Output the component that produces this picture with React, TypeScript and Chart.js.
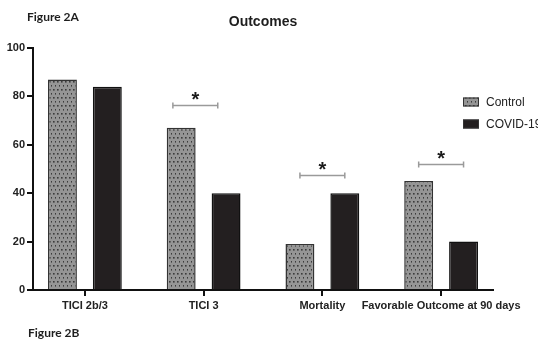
import React, { useEffect, useRef } from "react";
import { Chart, registerables } from "chart.js";

Chart.register(...registerables);

const categories = ["TICI 2b/3", "TICI 3", "Mortality", "Favorable Outcome at 90 days"];
const seriesNames = ["Control", "COVID-19"];
const controlValues = [87, 67, 19, 45];
const covidValues = [84, 40, 40, 20];
const yMin = 0;
const yMax = 100;
const yStep = 20;
// significance brackets: category index, bracket level (y value), small shift in category units
const sigCategory = [1, 2, 3];
const sigLevel = [76.5, 47.6, 52.1];
const sigShift = [-0.07, 0, 0];
const sigMark = ["*", "*", "*"];

const SANS = '"Liberation Sans", Arial, sans-serif';

function makePattern(): CanvasPattern | string {
  const c = document.createElement("canvas");
  c.width = 4;
  c.height = 8;
  const g = c.getContext("2d");
  if (!g) return "#8a8a8a";
  g.fillStyle = "#959595";
  g.fillRect(0, 0, 4, 8);
  g.fillStyle = "#3c3c3c";
  g.fillRect(1, 1, 1.6, 1.6);
  g.fillRect(3, 5, 1.6, 1.6);
  const p = g.createPattern(c, "repeat");
  return p || "#8a8a8a";
}

export default function App() {
  const ref = useRef<HTMLCanvasElement | null>(null);

  useEffect(() => {
    const canvas = ref.current;
    if (!canvas) return;
    const pattern = makePattern();

    const overlay = {
      id: "overlay",
      afterDraw(chart: any) {
        const ctx = chart.ctx as CanvasRenderingContext2D;
        const xs = chart.scales.x;
        const ys = chart.scales.y;
        const area = chart.chartArea;
        ctx.save();

        // category tick marks on the x axis
        ctx.strokeStyle = "#111";
        ctx.lineWidth = 2;
        ctx.beginPath();
        categories.forEach((_, i) => {
          const px = Math.round(xs.getPixelForValue(i));
          ctx.moveTo(px, area.bottom);
          ctx.lineTo(px, area.bottom + 6);
        });
        ctx.stroke();

        // panel labels and title
        ctx.fillStyle = "#1e1e1e";
        ctx.textBaseline = "middle";
        ctx.textAlign = "left";
        ctx.font = 'bold 12px Lato, "Open Sans", sans-serif';
        ctx.fillText("Figure 2A", 27, 17);
        ctx.fillText("Figure 2B", 28, 333);
        ctx.textAlign = "center";
        ctx.font = "bold 14px " + SANS;
        ctx.fillText("Outcomes", 263, 22);

        // legend
        const fills = [pattern, "#231f20"];
        const rows = [102, 124];
        seriesNames.forEach((name, i) => {
          ctx.fillStyle = fills[i] as any;
          ctx.fillRect(463, rows[i] - 4.5, 16, 9);
          ctx.strokeStyle = "#333";
          ctx.lineWidth = 1;
          ctx.strokeRect(463.5, rows[i] - 4, 15, 8);
          ctx.fillStyle = "#222";
          ctx.textAlign = "left";
          ctx.textBaseline = "middle";
          ctx.font = "12px " + SANS;
          ctx.fillText(name, 486, rows[i] + 0.5);
        });

        // significance brackets
        const m0 = chart.getDatasetMeta(0);
        const m1 = chart.getDatasetMeta(1);
        sigCategory.forEach((ci, k) => {
          const shift = xs.getPixelForValue(ci + sigShift[k]) - xs.getPixelForValue(ci);
          const x0 = m0.data[ci].x + shift;
          const x1 = m1.data[ci].x + shift;
          const y = Math.round(ys.getPixelForValue(sigLevel[k])) + 0.5;
          ctx.strokeStyle = "#9a9a9a";
          ctx.lineWidth = 1.5;
          ctx.beginPath();
          ctx.moveTo(x0, y);
          ctx.lineTo(x1, y);
          ctx.moveTo(x0, y - 3);
          ctx.lineTo(x0, y + 3);
          ctx.moveTo(x1, y - 3);
          ctx.lineTo(x1, y + 3);
          ctx.stroke();
          ctx.fillStyle = "#1a1a1a";
          ctx.font = "bold 20px " + SANS;
          ctx.textAlign = "center";
          ctx.textBaseline = "alphabetic";
          const mt = ctx.measureText(sigMark[k]);
          const asc = mt.actualBoundingBoxAscent;
          const desc = mt.actualBoundingBoxDescent;
          const cy = y - 10;
          ctx.fillText(sigMark[k], (x0 + x1) / 2, cy + (asc - desc) / 2);
        });
        ctx.restore();
      },
    };

    const chart = new Chart(canvas, {
      type: "bar",
      data: {
        datasets: [
          {
            label: seriesNames[0],
            data: controlValues.map((v, i) => ({ x: i, y: v })),
            backgroundColor: pattern as any,
            borderColor: "#333333",
            borderWidth: 1.5,
          },
          {
            label: seriesNames[1],
            data: covidValues.map((v, i) => ({ x: i, y: v })),
            backgroundColor: "#231f20",
            borderColor: "#111111",
            borderWidth: 1.5,
          },
        ],
      },
      options: {
        responsive: false,
        animation: false,
        devicePixelRatio: 1,
        layout: { padding: { left: 0, top: 48, right: 45, bottom: 0 } },
        categoryPercentage: 0.756,
        barPercentage: 0.644,
        plugins: {
          legend: { display: false },
          title: { display: false },
          tooltip: { enabled: false },
        },
        scales: {
          x: {
            type: "linear",
            min: -0.437,
            max: 3.437,
            bounds: "data",
            offset: false,
            afterBuildTicks: (scale: any) => {
              scale.ticks = categories.map((_, i) => ({ value: i }));
            },
            afterFit: (scale: any) => {
              scale.height = 50;
            },
            grid: {
              display: false,
              offset: false,
              drawOnChartArea: false,
              tickLength: 5,
            },
            border: { display: true, color: "#111", width: 2 },
            ticks: {
              autoSkip: false,
              maxRotation: 0,
              minRotation: 0,
              padding: 4,
              color: "#222",
              font: { family: SANS, size: 11, weight: "bold" },
              callback: (v: any) => categories[v] ?? "",
            },
          },
          y: {
            min: yMin,
            max: yMax,
            afterFit: (scale: any) => {
              scale.width = 33;
            },
            grid: {
              display: true,
              drawOnChartArea: false,
              drawTicks: true,
              tickLength: 6,
              color: "#111",
              lineWidth: 2,
            },
            border: { display: true, color: "#111", width: 2 },
            ticks: {
              stepSize: yStep,
              padding: 2,
              color: "#222",
              font: { family: SANS, size: 11, weight: "bold" },
            },
          },
        },
      } as any,
      plugins: [overlay],
    });
    return () => chart.destroy();
  }, []);

  return (
    <div style={{ position: "fixed", left: 0, top: 0, width: 538, height: 340, background: "#fff" }}>
      <canvas ref={ref} width={538} height={340} style={{ display: "block" }} />
    </div>
  );
}
